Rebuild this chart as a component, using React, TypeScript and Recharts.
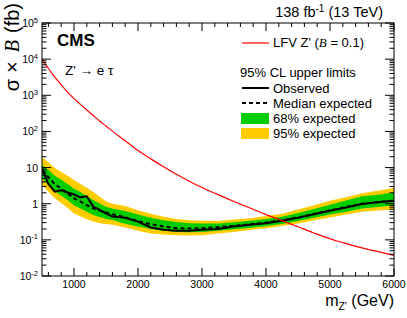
import React from 'react';
import { ComposedChart, Line, Area, XAxis, YAxis } from 'recharts';

document.body.style.margin = '0';

// Z' mass points (GeV)
const masses = [
  500, 600, 700, 800, 900, 1000, 1100, 1200, 1300, 1400, 1500, 1600, 1800, 2000, 2200, 2400,
  2600, 2800, 3000, 3250, 3500, 3750, 4000, 4250, 4500, 4750, 5000, 5250, 5500, 5750, 6000,
];

// LFV Z' signal cross section x B (fb)
const zprime = [
  10000, 5500, 3160, 1950, 1230, 810, 560, 390, 275, 195, 141, 102, 55, 29.5, 17.4, 10.5,
  6.5, 4.2, 2.8, 1.78, 1.15, 0.76, 0.5, 0.34, 0.23, 0.155, 0.107, 0.079, 0.06, 0.047, 0.037,
];

const observed = [
  9.5, 3.5, 2.15, 2.35, 2.05, 1.8, 1.5, 1.6, 0.83, 0.68, 0.54, 0.44, 0.41, 0.32, 0.22, 0.19,
  0.18, 0.18, 0.19, 0.2, 0.235, 0.26, 0.29, 0.34, 0.41, 0.51, 0.64, 0.79, 0.98, 1.1, 1.2,
];

const expected = [
  8.3, 5.4, 3.5, 2.6, 1.95, 1.4, 1.15, 0.92, 0.75, 0.64, 0.57, 0.51, 0.42, 0.33, 0.27, 0.235,
  0.21, 0.205, 0.21, 0.225, 0.245, 0.27, 0.3, 0.35, 0.42, 0.52, 0.66, 0.81, 1.0, 1.12, 1.23,
];

const exp68Hi = [
  12, 8.5, 5.9, 4.6, 3.5, 2.6, 2.1, 1.62, 1.26, 1.02, 0.83, 0.74, 0.63, 0.5, 0.41, 0.347,
  0.31, 0.288, 0.282, 0.282, 0.309, 0.339, 0.38, 0.437, 0.55, 0.71, 0.93, 1.23, 1.62, 1.78, 2.04,
];
const exp68Lo = [
  5.0, 3.3, 2.24, 1.66, 1.26, 0.91, 0.74, 0.6, 0.49, 0.43, 0.38, 0.355, 0.28, 0.234, 0.2, 0.178,
  0.166, 0.162, 0.166, 0.178, 0.195, 0.214, 0.24, 0.275, 0.331, 0.407, 0.5, 0.6, 0.74, 0.81, 0.89,
];
const exp95Hi = [
  20, 14.1, 9.8, 7.6, 5.9, 4.5, 3.5, 2.75, 2.1, 1.58, 1.17, 1.0, 0.87, 0.66, 0.525, 0.436,
  0.38, 0.347, 0.339, 0.331, 0.363, 0.398, 0.457, 0.525, 0.69, 0.91, 1.2, 1.51, 1.95, 2.29, 2.75,
];
const exp95Lo = [
  3.3, 2.14, 1.41, 1.05, 0.76, 0.54, 0.45, 0.37, 0.32, 0.29, 0.275, 0.263, 0.22, 0.178, 0.151, 0.141,
  0.135, 0.132, 0.135, 0.151, 0.166, 0.186, 0.209, 0.24, 0.282, 0.347, 0.417, 0.5, 0.6, 0.65, 0.69,
];

const xTicks = [
  600, 800, 1000, 1200, 1400, 1600, 1800, 2000, 2200, 2400, 2600, 2800, 3000, 3200, 3400, 3600,
  3800, 4000, 4200, 4400, 4600, 4800, 5000, 5200, 5400, 5600, 5800, 6000,
];
const decades = [0.01, 0.1, 1, 10, 100, 1000, 10000, 100000];
const decadeLabels = [['10', '-2'], ['10', '-1'], ['1', ''], ['10', ''], ['10', '2'], ['10', '3'], ['10', '4'], ['10', '5']];

const yTicks: number[] = [];
decades.forEach((d, i) => {
  yTicks.push(d);
  if (i < decades.length - 1) for (let k = 2; k <= 9; k++) yTicks.push(d * k);
});

const data = masses.map((m, i) => ({
  m,
  zp: zprime[i],
  obs: observed[i],
  exp: expected[i],
  b68: [exp68Lo[i], exp68Hi[i]],
  b95: [exp95Lo[i], exp95Hi[i]],
}));

const W = 407;
const H = 318;
const L = 42;
const R = 394;
const T = 23;
const B = 276;
const FONT = '"Liberation Sans", Arial, Helvetica, sans-serif';
const SERIF = '"Liberation Serif", serif';
const LEG = 13;

function XTick(props: any) {
  const x = props.payload.coordinate;
  const v = props.payload.value;
  const major = v % 1000 === 0;
  const len = major ? 8 : 4;
  return (
    <g>
      <line x1={x} x2={x} y1={B} y2={B - len} stroke="#000" strokeWidth={1} />
      <line x1={x} x2={x} y1={T} y2={T + len} stroke="#000" strokeWidth={1} />
      {major && (
        <text x={x} y={B + 12} textAnchor="middle" fontSize={10.5} fontFamily={FONT} fill="#000">
          {v}
        </text>
      )}
    </g>
  );
}

function YTick(props: any) {
  const y = props.payload.coordinate;
  const v = props.payload.value;
  const idx = decades.findIndex((d) => Math.abs(d - v) / d < 1e-6);
  const major = idx >= 0;
  const len = major ? 9 : 4.5;
  return (
    <g>
      <line x1={L} x2={L + len} y1={y} y2={y} stroke="#000" strokeWidth={1} />
      <line x1={R} x2={R - len} y1={y} y2={y} stroke="#000" strokeWidth={1} />
      {major && (
        <text x={38} y={y + 4} textAnchor="end" fontSize={10.5} fontFamily={FONT} fill="#000">
          {decadeLabels[idx][0]}
          {decadeLabels[idx][1] && (
            <tspan dy={-4.5} fontSize={7.5}>
              {decadeLabels[idx][1]}
            </tspan>
          )}
        </text>
      )}
    </g>
  );
}

export default function App() {
  return (
    <div style={{ position: 'relative', width: W, height: H, background: '#fff' }}>
      <ComposedChart width={W} height={H} data={data} margin={{ top: T, right: W - R, bottom: 0, left: 0 }}>
        <XAxis
          dataKey="m"
          type="number"
          domain={[500, 6000]}
          ticks={xTicks}
          interval={0}
          height={H - B}
          tickSize={0}
          tickMargin={0}
          axisLine={false}
          tickLine={false}
          tick={(p: any) => <XTick {...p} />}
          allowDataOverflow
        />
        <YAxis
          type="number"
          scale="log"
          domain={[0.01, 100000]}
          ticks={yTicks}
          interval={0}
          width={L}
          tickSize={0}
          tickMargin={0}
          axisLine={false}
          tickLine={false}
          tick={(p: any) => <YTick {...p} />}
          allowDataOverflow
        />
        <Area dataKey="b95" type="linear" fill="#ffcc00" fillOpacity={1} stroke="none" isAnimationActive={false} />
        <Area dataKey="b68" type="linear" fill="#00cc00" fillOpacity={1} stroke="none" isAnimationActive={false} />
        <Line dataKey="exp" type="linear" stroke="#000" strokeWidth={2} strokeDasharray="4 3" dot={false} isAnimationActive={false} />
        <Line dataKey="obs" type="linear" stroke="#000" strokeWidth={2} dot={false} isAnimationActive={false} />
        <Line dataKey="zp" type="monotone" stroke="#ff0000" strokeWidth={1.2} dot={false} isAnimationActive={false} />
      </ComposedChart>
      <svg width={W} height={H} style={{ position: 'absolute', left: 0, top: 0, pointerEvents: 'none' }} fontFamily={FONT}>
        <rect x={L} y={T} width={R - L} height={B - T} fill="none" stroke="#000" strokeWidth={1} />
        <text x={383} y={17} textAnchor="end" fontSize={14.5}>
          138 fb<tspan dy={-5} fontSize={10}>-1</tspan>
          <tspan dy={5}> (13 TeV)</tspan>
        </text>
        <text x={57} y={46} fontSize={17} fontWeight="bold">CMS</text>
        <text x={65} y={75} fontSize={13.5}>Z' → e τ</text>
        <text transform="translate(19, 3) rotate(-90)" textAnchor="end" fontSize={20}>
          σ<tspan dx={6}>×</tspan>
          <tspan dx={9} fontStyle="italic" fontFamily={SERIF}>B</tspan>
          <tspan dx={7}>(fb)</tspan>
        </text>
        <text x={394} y={306} textAnchor="end" fontSize={16}>
          m<tspan dy={4} fontSize={10.5}>Z'</tspan>
          <tspan dy={-4}> (GeV)</tspan>
        </text>
        <line x1={242} x2={269} y1={43} y2={43} stroke="#ff0000" strokeWidth={1.2} />
        <text x={273} y={47} fontSize={LEG}>
          LFV Z' (<tspan fontStyle="italic" fontFamily={SERIF}>B</tspan> = 0.1)
        </text>
        <text x={240} y={77} fontSize={LEG}>95% CL upper limits</text>
        <line x1={242} x2={269} y1={88} y2={88} stroke="#000" strokeWidth={2} />
        <text x={273} y={92.5} fontSize={LEG}>Observed</text>
        <line x1={242} x2={269} y1={103} y2={103} stroke="#000" strokeWidth={2} strokeDasharray="4 3" />
        <text x={273} y={107.5} fontSize={LEG}>Median expected</text>
        <rect x={241} y={113} width={28} height={11} fill="#00cc00" />
        <text x={273} y={122.5} fontSize={LEG}>68% expected</text>
        <rect x={241} y={128} width={28} height={11} fill="#ffcc00" />
        <text x={273} y={137.5} fontSize={LEG}>95% expected</text>
      </svg>
    </div>
  );
}
